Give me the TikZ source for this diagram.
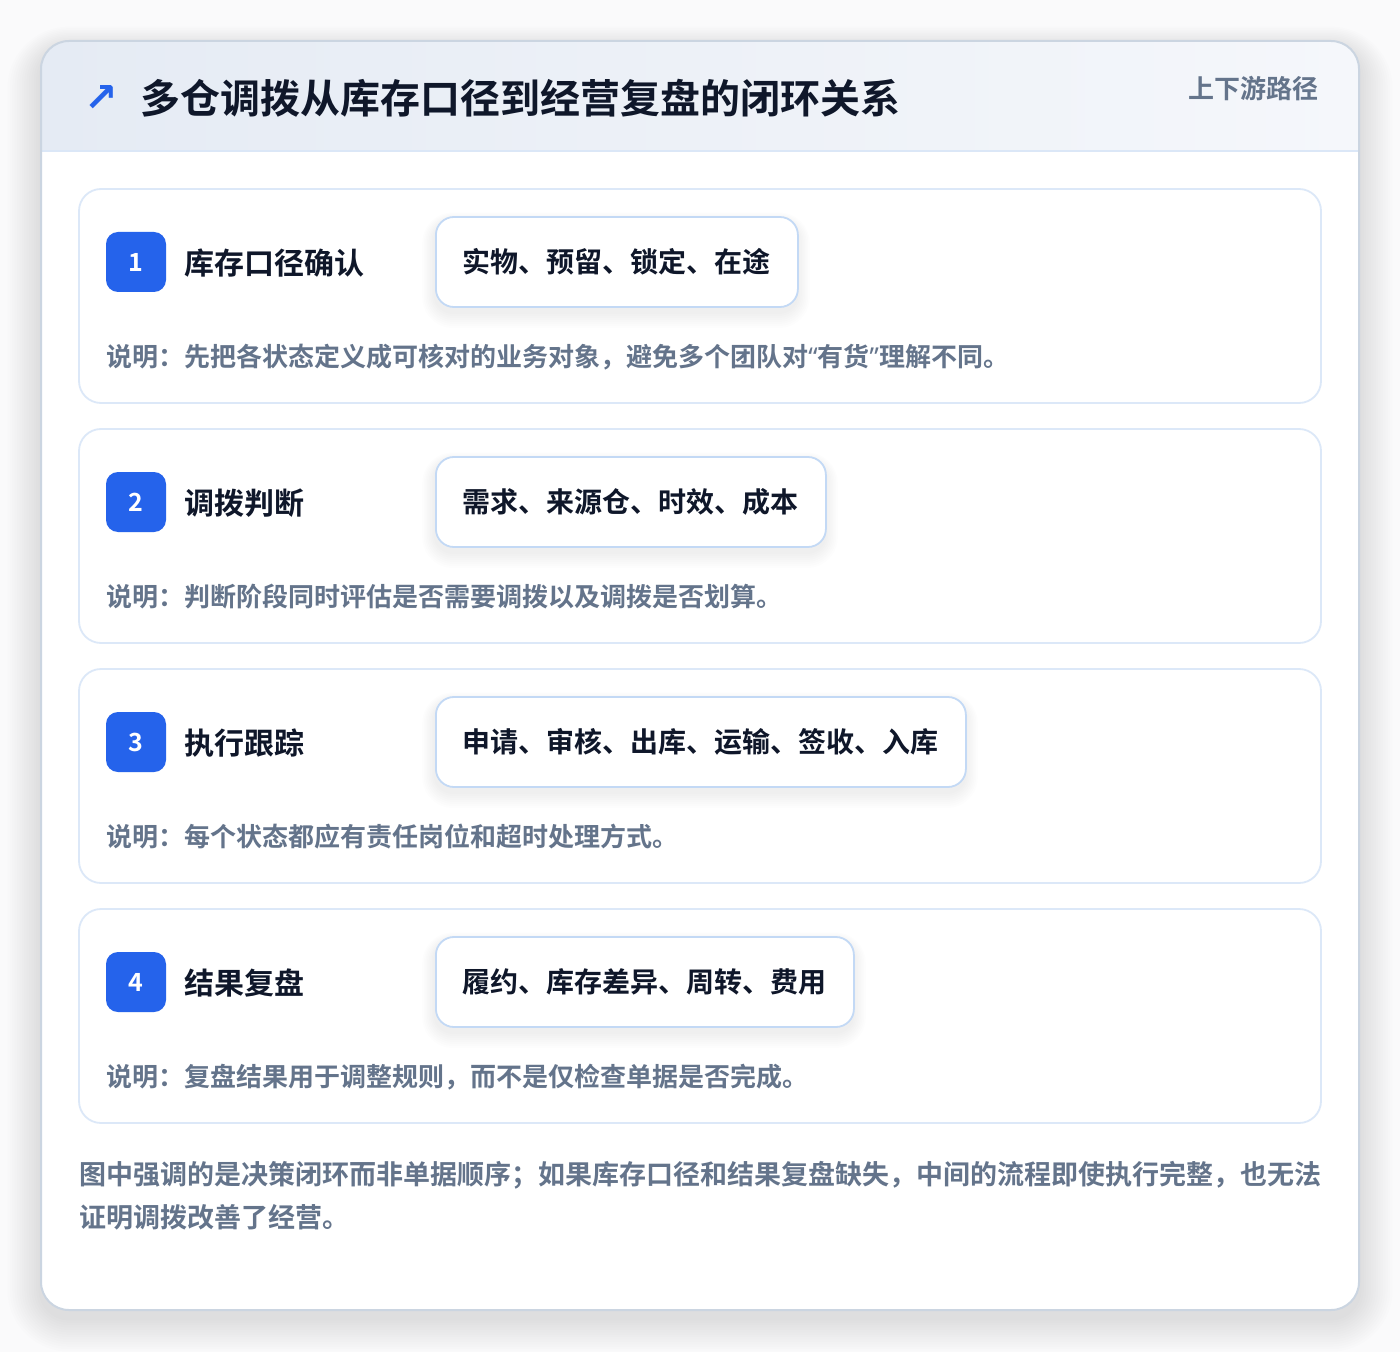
\documentclass[tikz,border=0pt]{standalone}
\usepackage{fontspec}
\setmainfont{Noto Sans CJK SC}[BoldFont={Noto Sans CJK SC Bold}]
\newfontfamily\symfont{DejaVu Sans}
\newfontfamily\latinq{Noto Sans}
\usetikzlibrary{calc}
\definecolor{pagebg}{HTML}{FAFAFB}
\definecolor{cardline}{HTML}{CBD5E1}
\definecolor{headL}{HTML}{E5EBF4}
\definecolor{headR}{HTML}{F5F7FB}
\definecolor{headline}{HTML}{DBE7F7}
\definecolor{stepline}{HTML}{DCE8F8}
\definecolor{tagline}{HTML}{C3D9F5}
\definecolor{accent}{HTML}{2563EB}
\definecolor{ink}{HTML}{0F172A}
\definecolor{muted}{HTML}{64748B}
\newcommand{\q}[1]{{\latinq\bfseries #1}}
\tikzset{
  stepcard/.style={draw=stepline, line width=0.9pt, fill=white, rounded corners=11pt},
  badgebox/.style={fill=accent, text=white, rounded corners=6pt, minimum size=30pt, inner sep=0pt,
    font=\bfseries\fontsize{12.5pt}{14pt}\selectfont},
  steplabel/.style={anchor=west, inner sep=0pt, text=ink, font=\bfseries\fontsize{15pt}{18pt}\selectfont},
  tagbox/.style={anchor=west, draw=tagline, line width=0.9pt, fill=white, rounded corners=9pt,
    minimum height=45pt, inner xsep=13.5pt, inner ysep=0pt, text=ink,
    font=\bfseries\fontsize{14pt}{17pt}\selectfont},
  desctext/.style={anchor=west, inner sep=0pt, text=muted, font=\bfseries\fontsize{13pt}{15pt}\selectfont},
  foottext/.style={anchor=west, inner sep=0pt, text=muted, font=\bfseries\fontsize{13.5pt}{16pt}\selectfont},
}
\begin{document}
\begin{tikzpicture}[x=0.5pt,y=-0.5pt]
\useasboundingbox (0,0) rectangle (1400,1352);
\fill[pagebg] (0,0) rectangle (1400,1352);
% soft shadow of outer card
\foreach \k in {1,...,14}{
  \fill[black, opacity=0.006, rounded corners=14pt+\k*1.2pt]
    (41-\k*2.4,41-\k*1.6+8) rectangle (1359+\k*2.4,1310+\k*2.4+8);
}
% outer card
\fill[white, rounded corners=14pt] (41,41) rectangle (1359,1310);
\begin{scope}
  \clip[rounded corners=14pt] (41,41) rectangle (1359,1310);
  \shade[left color=headL, right color=headR] (41,41) rectangle (1359,151);
\end{scope}
\draw[headline, line width=1pt] (41,151) -- (1359,151);
\draw[cardline, line width=1pt, rounded corners=14pt] (41,41) rectangle (1359,1310);
% header
\node[anchor=center, inner sep=0pt, text=accent, font=\symfont\bfseries\fontsize{20pt}{22pt}\selectfont] (icon) at (101,99) {↗};
\node[anchor=west, inner sep=0pt, text=ink, font=\bfseries\fontsize{20pt}{24pt}\selectfont] (title) at (140,98) {多仓调拨从库存口径到经营复盘的闭环关系};
\node[anchor=east, inner sep=0pt, text=muted, font=\bfseries\fontsize{13pt}{16pt}\selectfont] (side) at (1319,89) {上下游路径};
% steps
\foreach \i/\lab/\tag/\tw/\desc in {
  1/库存口径确认/实物、预留、锁定、在途/362/说明：先把各状态定义成可核对的业务对象，避免多个团队对\q{“}有货\q{”}理解不同。,
  2/调拨判断/需求、来源仓、时效、成本/390/说明：判断阶段同时评估是否需要调拨以及调拨是否划算。,
  3/执行跟踪/申请、审核、出库、运输、签收、入库/530/说明：每个状态都应有责任岗位和超时处理方式。,
  4/结果复盘/履约、库存差异、周转、费用/418/说明：复盘结果用于调整规则，而不是仅检查单据是否完成。}{
  \pgfmathsetmacro{\top}{189+240*(\i-1)}
  \draw[stepcard] (79,\top) rectangle (1321,\top+214);
  \foreach \k in {1,...,8}{
    \fill[black, opacity=0.006, rounded corners=9pt+\k*0.8pt]
      (435-\k*1.6,\top+28-\k*1.2+5) rectangle (435+\tw+\k*1.6,\top+118+\k*2+5);
  }
  \node[badgebox] (badge\i) at (136,\top+73) {\i};
  \node[steplabel] (label\i) at (184,\top+74) {\lab};
  \node[tagbox] (tag\i) at (435,\top+73) {\tag};
  \node[desctext] (desc\i) at (106,\top+168) {\desc};
}
% footer
\node[foottext] (foot1) at (79,1175) {图中强调的是决策闭环而非单据顺序；如果库存口径和结果复盘缺失，中间的流程即使执行完整，也无法};
\node[foottext] (foot2) at (79,1217) {证明调拨改善了经营。};
\end{tikzpicture}
\end{document}
